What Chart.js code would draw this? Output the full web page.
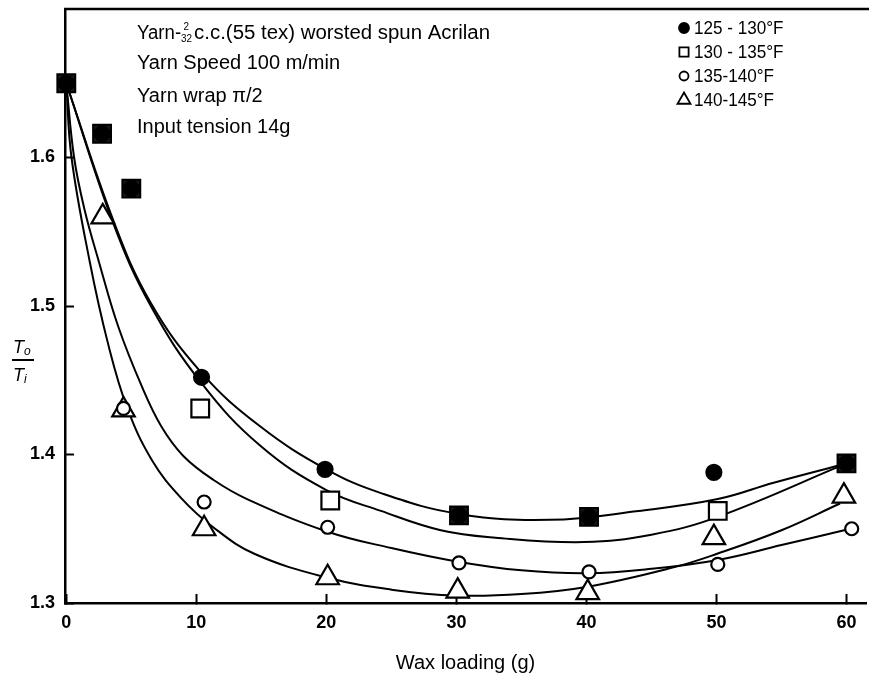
<!DOCTYPE html>
<html>
<head>
<meta charset="utf-8">
<script src="https://cdn.jsdelivr.net/npm/chart.js@4.4.1/dist/chart.umd.min.js"></script>
<style>
  body { margin: 0; background: #fff; }
  #wrap { width: 869px; height: 680px; }
</style>
</head>
<body>
<div id="wrap"><canvas id="chart" width="869" height="680"></canvas></div>
<script>
// measured points, one pair of arrays per temperature band
const band125X = [0, 2.75, 5.0, 10.4, 19.9, 30.2, 40.2, 49.8, 60];
const band125Y = [1.65, 1.616, 1.579, 1.452, 1.390, 1.359, 1.358, 1.388, 1.394];
const band130X = [0, 2.75, 5.0, 10.3, 20.3, 30.2, 40.2, 50.1, 60];
const band130Y = [1.65, 1.616, 1.579, 1.431, 1.369, 1.359, 1.358, 1.362, 1.394];
const band135X = [4.4, 10.6, 20.1, 30.2, 40.2, 50.1, 60.4];
const band135Y = [1.431, 1.368, 1.351, 1.327, 1.321, 1.326, 1.350];
const band140X = [2.8, 4.4, 10.6, 20.1, 30.1, 40.1, 49.8, 59.8];
const band140Y = [1.560, 1.430, 1.350, 1.317, 1.308, 1.307, 1.344, 1.372];

// the hand-drawn fitted curves
const fit125X = [0, 3.6, 6.5, 10.4, 14.9, 20, 24.2, 30.2, 37.2, 44, 50.1, 54.4, 60];
const fit125Y = [1.65, 1.558, 1.502, 1.455, 1.419, 1.390, 1.374, 1.360, 1.356, 1.362, 1.370, 1.381, 1.394];
const fit130X = [0, 3.6, 6.5, 10.4, 14.9, 20, 24.2, 28.8, 33, 39.8, 45, 50.1, 60];
const fit130Y = [1.65, 1.556, 1.500, 1.448, 1.406, 1.376, 1.362, 1.349, 1.344, 1.341, 1.346, 1.358, 1.394];
const fit135X = [0, 0.6, 1.4, 2.5, 4.0, 5.8, 7.3, 9.0, 11.3, 13.9, 20.1, 25, 30, 35, 40.1, 45, 50.1, 55, 60.3];
const fit135Y = [1.65, 1.60, 1.565, 1.53, 1.486, 1.446, 1.419, 1.399, 1.383, 1.370, 1.348, 1.337, 1.328, 1.322, 1.320, 1.323, 1.329, 1.339, 1.350];
const fit140X = [0, 0.4, 1.8, 3.2, 4.7, 6.6, 8.8, 11.3, 14.5, 20.1, 25, 30, 35, 40.1, 46.7, 50, 55, 59.5];
const fit140Y = [1.65, 1.60, 1.53, 1.475, 1.431, 1.396, 1.371, 1.351, 1.333, 1.317, 1.309, 1.305, 1.306, 1.311, 1.324, 1.333, 1.349, 1.367];

const bandLabels = ['125 - 130°F', '130 - 135°F', '135-140°F', '140-145°F'];
const xTicks = [0, 10, 20, 30, 40, 50, 60];
const yTicks = [1.3, 1.4, 1.5, 1.6];
const notes = ['Yarn Speed 100 m/min', 'Yarn wrap π/2', 'Input tension 14g'];

const NARROW = "'Liberation Sans Narrow', 'Liberation Sans', Arial, sans-serif";
const PLAIN = "'Liberation Sans', Arial, sans-serif";

function pts(xs, ys) {
  return xs.map((x, i) => ({ x: x, y: ys[i] }));
}

// where the 130-135 square sits on a 125-130 dot the print shows a dark square
const squareFill = band130X.map((x, i) =>
  band125X.some((v, j) => v === x && band125Y[j] === band130Y[i]) ? '#1c1c1c' : '#fff');

function markers(label, xs, ys, style, r, fill) {
  return {
    label: label,
    data: pts(xs, ys),
    showLine: false,
    pointStyle: style,
    pointRadius: r,
    pointHoverRadius: r,
    pointBackgroundColor: fill,
    pointBorderColor: '#000',
    pointBorderWidth: 2.2,
    clip: false
  };
}

function curve(xs, ys) {
  return {
    label: '',
    data: pts(xs, ys),
    showLine: true,
    pointRadius: 0,
    borderColor: '#000',
    borderWidth: 2,
    tension: 0.4,
    fill: false
  };
}

const legendStyles = [
  { style: 'circle', r: 5, fill: '#000' },
  { style: 'rect', r: 6.5, fill: '#fff' },
  { style: 'circle', r: 4.5, fill: '#fff' },
  { style: 'triangle', r: 7.5, fill: '#fff' }
];

function drawMark(ctx, s, x, y) {
  ctx.fillStyle = s.fill;
  ctx.strokeStyle = '#000';
  ctx.lineWidth = 1.8;
  ctx.beginPath();
  if (s.style === 'circle') {
    ctx.arc(x, y, s.r, 0, Math.PI * 2);
  } else if (s.style === 'rect') {
    const h = s.r * Math.SQRT1_2;
    ctx.rect(x - h, y - h, 2 * h, 2 * h);
  } else {
    ctx.moveTo(x, y - s.r);
    ctx.lineTo(x + s.r * 0.866, y + s.r * 0.5);
    ctx.lineTo(x - s.r * 0.866, y + s.r * 0.5);
    ctx.closePath();
  }
  ctx.fill();
  ctx.stroke();
}

function squeezed(ctx, text, x, y, sx) {
  ctx.save();
  ctx.translate(x, y);
  ctx.scale(sx, 1);
  ctx.fillText(text, 0, 0);
  ctx.restore();
  return ctx.measureText(text).width * sx;
}

const extras = {
  id: 'extras',
  afterDraw(chart) {
    const ctx = chart.ctx;
    const a = chart.chartArea;
    ctx.save();

    // top frame line
    ctx.strokeStyle = '#000';
    ctx.lineWidth = 2.5;
    ctx.beginPath();
    ctx.moveTo(a.left - 1, a.top);
    ctx.lineTo(chart.width, a.top);
    ctx.stroke();

    // notes block
    ctx.fillStyle = '#000';
    ctx.textBaseline = 'alphabetic';
    ctx.font = '20px ' + PLAIN;
    let x = 137;
    x += squeezed(ctx, 'Yarn-', x, 39, 0.93);
    ctx.font = '11px ' + PLAIN;
    squeezed(ctx, '2', x + 2.5, 30, 0.9);
    squeezed(ctx, '32', x, 42, 0.9);
    ctx.font = '20px ' + PLAIN;
    squeezed(ctx, 'c.c.(55 tex) worsted spun Acrilan', x + 13, 39, 1.02);
    const baselines = [69, 102, 133];
    notes.forEach((t, i) => squeezed(ctx, t, 137, baselines[i], 1));

    // legend, top right
    const rows = [28, 52, 76, 100];
    ctx.textBaseline = 'middle';
    bandLabels.forEach((t, i) => {
      drawMark(ctx, legendStyles[i], 684, rows[i]);
      ctx.fillStyle = '#000';
      ctx.font = '19px ' + NARROW;
      squeezed(ctx, t, 694, rows[i] + 1, 0.9);
    });

    // y title: To over Ti
    ctx.textBaseline = 'alphabetic';
    ctx.font = 'italic 18px ' + NARROW;
    ctx.fillText('T', 13, 353);
    ctx.font = 'italic 12px ' + NARROW;
    ctx.fillText('o', 24, 355);
    ctx.lineWidth = 2;
    ctx.beginPath();
    ctx.moveTo(12, 360);
    ctx.lineTo(34, 360);
    ctx.stroke();
    ctx.font = 'italic 18px ' + NARROW;
    ctx.fillText('T', 13, 381);
    ctx.font = 'italic 12px ' + NARROW;
    ctx.fillText('i', 24, 383);

    ctx.restore();
  }
};

const datasets = [
  markers(bandLabels[0], band125X, band125Y, 'circle', 7.5, '#000'),
  markers(bandLabels[1], band130X, band130Y, 'rect', 12.5, squareFill),
  markers(bandLabels[2], band135X, band135Y, 'circle', 6.5, '#fff'),
  markers(bandLabels[3], band140X, band140Y, 'triangle', 13, '#fff'),
  curve(fit125X, fit125Y),
  curve(fit130X, fit130Y),
  curve(fit135X, fit135Y),
  curve(fit140X, fit140Y)
];

new Chart(document.getElementById('chart'), {
  type: 'scatter',
  data: { datasets: datasets },
  options: {
    responsive: false,
    animation: false,
    events: [],
    layout: { autoPadding: false, padding: { top: 9, right: 3, left: 0, bottom: 0 } },
    plugins: {
      legend: { display: false },
      tooltip: { enabled: false }
    },
    scales: {
      x: {
        type: 'linear',
        min: -0.1,
        max: 61.5,
        afterBuildTicks: s => { s.ticks = xTicks.map(v => ({ value: v })); },
        afterFit: s => { s.height = 77; s.paddingLeft = 0; s.paddingRight = 0; },
        border: { color: '#000', width: 2.5 },
        grid: { drawOnChartArea: false, tickLength: -9, tickWidth: 2, tickColor: '#000' },
        ticks: { color: '#000', padding: 18, maxRotation: 0, font: { family: NARROW, size: 18, weight: 'bold' } },
        title: {
          display: true,
          text: 'Wax loading (g)',
          color: '#000',
          padding: { top: 0, bottom: 5 },
          font: { family: PLAIN, size: 20 }
        }
      },
      y: {
        type: 'linear',
        min: 1.3,
        max: 1.7,
        afterBuildTicks: s => { s.ticks = yTicks.map(v => ({ value: v })); },
        afterFit: s => { s.width = 65; s.paddingTop = 0; s.paddingBottom = 0; },
        border: { color: '#000', width: 2.5 },
        grid: { drawOnChartArea: false, tickLength: -9, tickWidth: 2, tickColor: '#000' },
        ticks: {
          color: '#000',
          padding: 19,
          font: { family: NARROW, size: 18, weight: 'bold' },
          callback: v => v.toFixed(1)
        }
      }
    }
  },
  plugins: [extras]
});
</script>
</body>
</html>
